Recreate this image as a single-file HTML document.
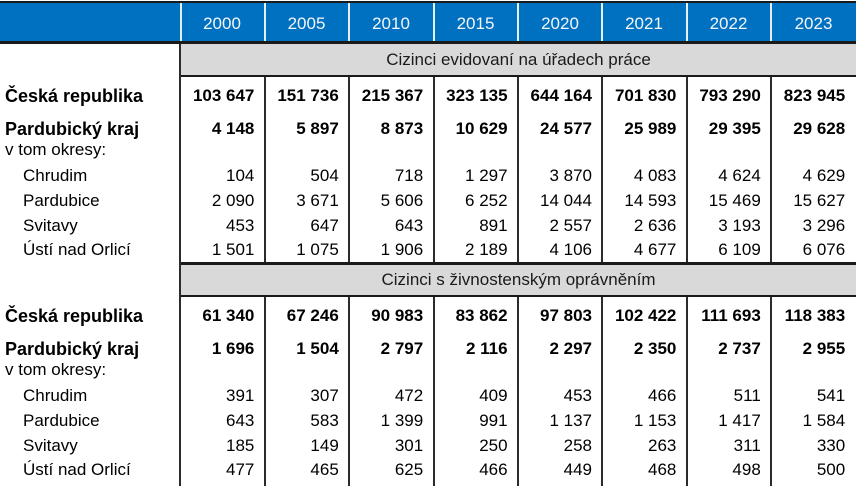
<!DOCTYPE html>
<html>
<head>
<meta charset="utf-8">
<style>
  html,body{margin:0;padding:0;background:#fff;}
  body{width:856px;height:486px;position:relative;overflow:hidden;font-family:"Liberation Sans",Arial,sans-serif;color:#000;}
  .a{position:absolute;}
  .t{position:absolute;line-height:20px;font-size:17px;white-space:nowrap;}
  .r{text-align:right;}
  .c{text-align:center;}
  .b{font-weight:bold;}
  .lb{font-weight:bold;font-size:18px;}
  .hd{color:#f4f6fa;}
  .vl{position:absolute;width:2px;background:#2b2b2b;}
  .wl{position:absolute;width:2px;background:#e6eef6;top:3px;height:38px;}
  .hl{position:absolute;background:#1a1a1a;}
</style>
</head>
<body>
<!-- header -->
<div class="hl" style="left:0;top:1px;width:856px;height:2px;"></div>
<div class="a" style="left:0;top:3px;width:856px;height:38px;background:#0070c0;"></div>
<div class="hl" style="left:0;top:41px;width:856px;height:3px;"></div>

<div class="wl" style="left:180px"></div>
<div class="wl" style="left:264px"></div>
<div class="wl" style="left:348px"></div>
<div class="wl" style="left:433px"></div>
<div class="wl" style="left:517px"></div>
<div class="wl" style="left:601px"></div>
<div class="wl" style="left:686px"></div>
<div class="wl" style="left:770px"></div>

<div class="t c hd" style="left:180px;width:84px;top:14px;">2000</div>
<div class="t c hd" style="left:264px;width:85px;top:14px;">2005</div>
<div class="t c hd" style="left:349px;width:84px;top:14px;">2010</div>
<div class="t c hd" style="left:433px;width:85px;top:14px;">2015</div>
<div class="t c hd" style="left:518px;width:84px;top:14px;">2020</div>
<div class="t c hd" style="left:602px;width:84px;top:14px;">2021</div>
<div class="t c hd" style="left:686px;width:85px;top:14px;">2022</div>
<div class="t c hd" style="left:771px;width:85px;top:14px;">2023</div>

<!-- band 1 -->
<div class="a" style="left:181px;top:44px;width:675px;height:31px;background:#d9d9d9;"></div>
<div class="hl" style="left:180px;top:75px;width:676px;height:2px;"></div>
<div class="t c" style="left:181px;width:675px;top:50px;color:#1a1a1a;">Cizinci evidovaní na úřadech práce</div>

<!-- band 2 -->
<div class="hl" style="left:180px;top:262px;width:676px;height:3px;"></div>
<div class="a" style="left:181px;top:265px;width:675px;height:30px;background:#d9d9d9;"></div>
<div class="hl" style="left:180px;top:295px;width:676px;height:2px;"></div>
<div class="t c" style="left:181px;width:675px;top:270px;color:#1a1a1a;">Cizinci s živnostenským oprávněním</div>

<!-- vertical lines -->
<div class="vl" style="left:179px;top:44px;height:442px;"></div>
<div class="vl" style="left:264px;top:77px;height:185px;"></div>
<div class="vl" style="left:348px;top:77px;height:185px;"></div>
<div class="vl" style="left:433px;top:77px;height:185px;"></div>
<div class="vl" style="left:517px;top:77px;height:185px;"></div>
<div class="vl" style="left:601px;top:77px;height:185px;"></div>
<div class="vl" style="left:686px;top:77px;height:185px;"></div>
<div class="vl" style="left:770px;top:77px;height:185px;"></div>
<div class="vl" style="left:264px;top:297px;height:189px;"></div>
<div class="vl" style="left:348px;top:297px;height:189px;"></div>
<div class="vl" style="left:433px;top:297px;height:189px;"></div>
<div class="vl" style="left:517px;top:297px;height:189px;"></div>
<div class="vl" style="left:601px;top:297px;height:189px;"></div>
<div class="vl" style="left:686px;top:297px;height:189px;"></div>
<div class="vl" style="left:770px;top:297px;height:189px;"></div>

<!-- labels section 1 -->
<div class="t lb" style="left:5px;top:86px;">Česká republika</div>
<div class="t lb" style="left:5px;top:118.5px;">Pardubický kraj</div>
<div class="t" style="left:5px;top:140px;">v tom okresy:</div>
<div class="t" style="left:23px;top:165.5px;">Chrudim</div>
<div class="t" style="left:23px;top:190.5px;">Pardubice</div>
<div class="t" style="left:23px;top:215.5px;">Svitavy</div>
<div class="t" style="left:23px;top:239.5px;">Ústí nad Orlicí</div>

<!-- labels section 2 -->
<div class="t lb" style="left:5px;top:306px;">Česká republika</div>
<div class="t lb" style="left:5px;top:338.5px;">Pardubický kraj</div>
<div class="t" style="left:5px;top:360px;">v tom okresy:</div>
<div class="t" style="left:23px;top:385.5px;">Chrudim</div>
<div class="t" style="left:23px;top:410.5px;">Pardubice</div>
<div class="t" style="left:23px;top:435.5px;">Svitavy</div>
<div class="t" style="left:23px;top:459.5px;">Ústí nad Orlicí</div>

<!-- numbers section 1 -->
<!-- Česká republika -->
<div class="t r b" style="left:180px;width:74.4px;top:86px;">103&nbsp;647</div>
<div class="t r b" style="left:264.4px;width:74.4px;top:86px;">151&nbsp;736</div>
<div class="t r b" style="left:348.8px;width:74.4px;top:86px;">215&nbsp;367</div>
<div class="t r b" style="left:433.2px;width:74.4px;top:86px;">323&nbsp;135</div>
<div class="t r b" style="left:517.6px;width:74.4px;top:86px;">644&nbsp;164</div>
<div class="t r b" style="left:602px;width:74.4px;top:86px;">701&nbsp;830</div>
<div class="t r b" style="left:686.4px;width:74.4px;top:86px;">793&nbsp;290</div>
<div class="t r b" style="left:770.8px;width:74.4px;top:86px;">823&nbsp;945</div>
<!-- Pardubický kraj -->
<div class="t r b" style="left:180px;width:74.4px;top:118.5px;">4&nbsp;148</div>
<div class="t r b" style="left:264.4px;width:74.4px;top:118.5px;">5&nbsp;897</div>
<div class="t r b" style="left:348.8px;width:74.4px;top:118.5px;">8&nbsp;873</div>
<div class="t r b" style="left:433.2px;width:74.4px;top:118.5px;">10&nbsp;629</div>
<div class="t r b" style="left:517.6px;width:74.4px;top:118.5px;">24&nbsp;577</div>
<div class="t r b" style="left:602px;width:74.4px;top:118.5px;">25&nbsp;989</div>
<div class="t r b" style="left:686.4px;width:74.4px;top:118.5px;">29&nbsp;395</div>
<div class="t r b" style="left:770.8px;width:74.4px;top:118.5px;">29&nbsp;628</div>
<!-- Chrudim -->
<div class="t r" style="left:180px;width:74.4px;top:165.5px;">104</div>
<div class="t r" style="left:264.4px;width:74.4px;top:165.5px;">504</div>
<div class="t r" style="left:348.8px;width:74.4px;top:165.5px;">718</div>
<div class="t r" style="left:433.2px;width:74.4px;top:165.5px;">1&nbsp;297</div>
<div class="t r" style="left:517.6px;width:74.4px;top:165.5px;">3&nbsp;870</div>
<div class="t r" style="left:602px;width:74.4px;top:165.5px;">4&nbsp;083</div>
<div class="t r" style="left:686.4px;width:74.4px;top:165.5px;">4&nbsp;624</div>
<div class="t r" style="left:770.8px;width:74.4px;top:165.5px;">4&nbsp;629</div>
<!-- Pardubice -->
<div class="t r" style="left:180px;width:74.4px;top:190.5px;">2&nbsp;090</div>
<div class="t r" style="left:264.4px;width:74.4px;top:190.5px;">3&nbsp;671</div>
<div class="t r" style="left:348.8px;width:74.4px;top:190.5px;">5&nbsp;606</div>
<div class="t r" style="left:433.2px;width:74.4px;top:190.5px;">6&nbsp;252</div>
<div class="t r" style="left:517.6px;width:74.4px;top:190.5px;">14&nbsp;044</div>
<div class="t r" style="left:602px;width:74.4px;top:190.5px;">14&nbsp;593</div>
<div class="t r" style="left:686.4px;width:74.4px;top:190.5px;">15&nbsp;469</div>
<div class="t r" style="left:770.8px;width:74.4px;top:190.5px;">15&nbsp;627</div>
<!-- Svitavy -->
<div class="t r" style="left:180px;width:74.4px;top:215.5px;">453</div>
<div class="t r" style="left:264.4px;width:74.4px;top:215.5px;">647</div>
<div class="t r" style="left:348.8px;width:74.4px;top:215.5px;">643</div>
<div class="t r" style="left:433.2px;width:74.4px;top:215.5px;">891</div>
<div class="t r" style="left:517.6px;width:74.4px;top:215.5px;">2&nbsp;557</div>
<div class="t r" style="left:602px;width:74.4px;top:215.5px;">2&nbsp;636</div>
<div class="t r" style="left:686.4px;width:74.4px;top:215.5px;">3&nbsp;193</div>
<div class="t r" style="left:770.8px;width:74.4px;top:215.5px;">3&nbsp;296</div>
<!-- Ústí nad Orlicí -->
<div class="t r" style="left:180px;width:74.4px;top:239.5px;">1&nbsp;501</div>
<div class="t r" style="left:264.4px;width:74.4px;top:239.5px;">1&nbsp;075</div>
<div class="t r" style="left:348.8px;width:74.4px;top:239.5px;">1&nbsp;906</div>
<div class="t r" style="left:433.2px;width:74.4px;top:239.5px;">2&nbsp;189</div>
<div class="t r" style="left:517.6px;width:74.4px;top:239.5px;">4&nbsp;106</div>
<div class="t r" style="left:602px;width:74.4px;top:239.5px;">4&nbsp;677</div>
<div class="t r" style="left:686.4px;width:74.4px;top:239.5px;">6&nbsp;109</div>
<div class="t r" style="left:770.8px;width:74.4px;top:239.5px;">6&nbsp;076</div>

<!-- numbers section 2 -->
<div class="t r b" style="left:180px;width:74.4px;top:306px;">61&nbsp;340</div>
<div class="t r b" style="left:264.4px;width:74.4px;top:306px;">67&nbsp;246</div>
<div class="t r b" style="left:348.8px;width:74.4px;top:306px;">90&nbsp;983</div>
<div class="t r b" style="left:433.2px;width:74.4px;top:306px;">83&nbsp;862</div>
<div class="t r b" style="left:517.6px;width:74.4px;top:306px;">97&nbsp;803</div>
<div class="t r b" style="left:602px;width:74.4px;top:306px;">102&nbsp;422</div>
<div class="t r b" style="left:686.4px;width:74.4px;top:306px;">111&nbsp;693</div>
<div class="t r b" style="left:770.8px;width:74.4px;top:306px;">118&nbsp;383</div>

<div class="t r b" style="left:180px;width:74.4px;top:338.5px;">1&nbsp;696</div>
<div class="t r b" style="left:264.4px;width:74.4px;top:338.5px;">1&nbsp;504</div>
<div class="t r b" style="left:348.8px;width:74.4px;top:338.5px;">2&nbsp;797</div>
<div class="t r b" style="left:433.2px;width:74.4px;top:338.5px;">2&nbsp;116</div>
<div class="t r b" style="left:517.6px;width:74.4px;top:338.5px;">2&nbsp;297</div>
<div class="t r b" style="left:602px;width:74.4px;top:338.5px;">2&nbsp;350</div>
<div class="t r b" style="left:686.4px;width:74.4px;top:338.5px;">2&nbsp;737</div>
<div class="t r b" style="left:770.8px;width:74.4px;top:338.5px;">2&nbsp;955</div>

<div class="t r" style="left:180px;width:74.4px;top:385.5px;">391</div>
<div class="t r" style="left:264.4px;width:74.4px;top:385.5px;">307</div>
<div class="t r" style="left:348.8px;width:74.4px;top:385.5px;">472</div>
<div class="t r" style="left:433.2px;width:74.4px;top:385.5px;">409</div>
<div class="t r" style="left:517.6px;width:74.4px;top:385.5px;">453</div>
<div class="t r" style="left:602px;width:74.4px;top:385.5px;">466</div>
<div class="t r" style="left:686.4px;width:74.4px;top:385.5px;">511</div>
<div class="t r" style="left:770.8px;width:74.4px;top:385.5px;">541</div>

<div class="t r" style="left:180px;width:74.4px;top:410.5px;">643</div>
<div class="t r" style="left:264.4px;width:74.4px;top:410.5px;">583</div>
<div class="t r" style="left:348.8px;width:74.4px;top:410.5px;">1&nbsp;399</div>
<div class="t r" style="left:433.2px;width:74.4px;top:410.5px;">991</div>
<div class="t r" style="left:517.6px;width:74.4px;top:410.5px;">1&nbsp;137</div>
<div class="t r" style="left:602px;width:74.4px;top:410.5px;">1&nbsp;153</div>
<div class="t r" style="left:686.4px;width:74.4px;top:410.5px;">1&nbsp;417</div>
<div class="t r" style="left:770.8px;width:74.4px;top:410.5px;">1&nbsp;584</div>

<div class="t r" style="left:180px;width:74.4px;top:435.5px;">185</div>
<div class="t r" style="left:264.4px;width:74.4px;top:435.5px;">149</div>
<div class="t r" style="left:348.8px;width:74.4px;top:435.5px;">301</div>
<div class="t r" style="left:433.2px;width:74.4px;top:435.5px;">250</div>
<div class="t r" style="left:517.6px;width:74.4px;top:435.5px;">258</div>
<div class="t r" style="left:602px;width:74.4px;top:435.5px;">263</div>
<div class="t r" style="left:686.4px;width:74.4px;top:435.5px;">311</div>
<div class="t r" style="left:770.8px;width:74.4px;top:435.5px;">330</div>

<div class="t r" style="left:180px;width:74.4px;top:459.5px;">477</div>
<div class="t r" style="left:264.4px;width:74.4px;top:459.5px;">465</div>
<div class="t r" style="left:348.8px;width:74.4px;top:459.5px;">625</div>
<div class="t r" style="left:433.2px;width:74.4px;top:459.5px;">466</div>
<div class="t r" style="left:517.6px;width:74.4px;top:459.5px;">449</div>
<div class="t r" style="left:602px;width:74.4px;top:459.5px;">468</div>
<div class="t r" style="left:686.4px;width:74.4px;top:459.5px;">498</div>
<div class="t r" style="left:770.8px;width:74.4px;top:459.5px;">500</div>
</body>
</html>
